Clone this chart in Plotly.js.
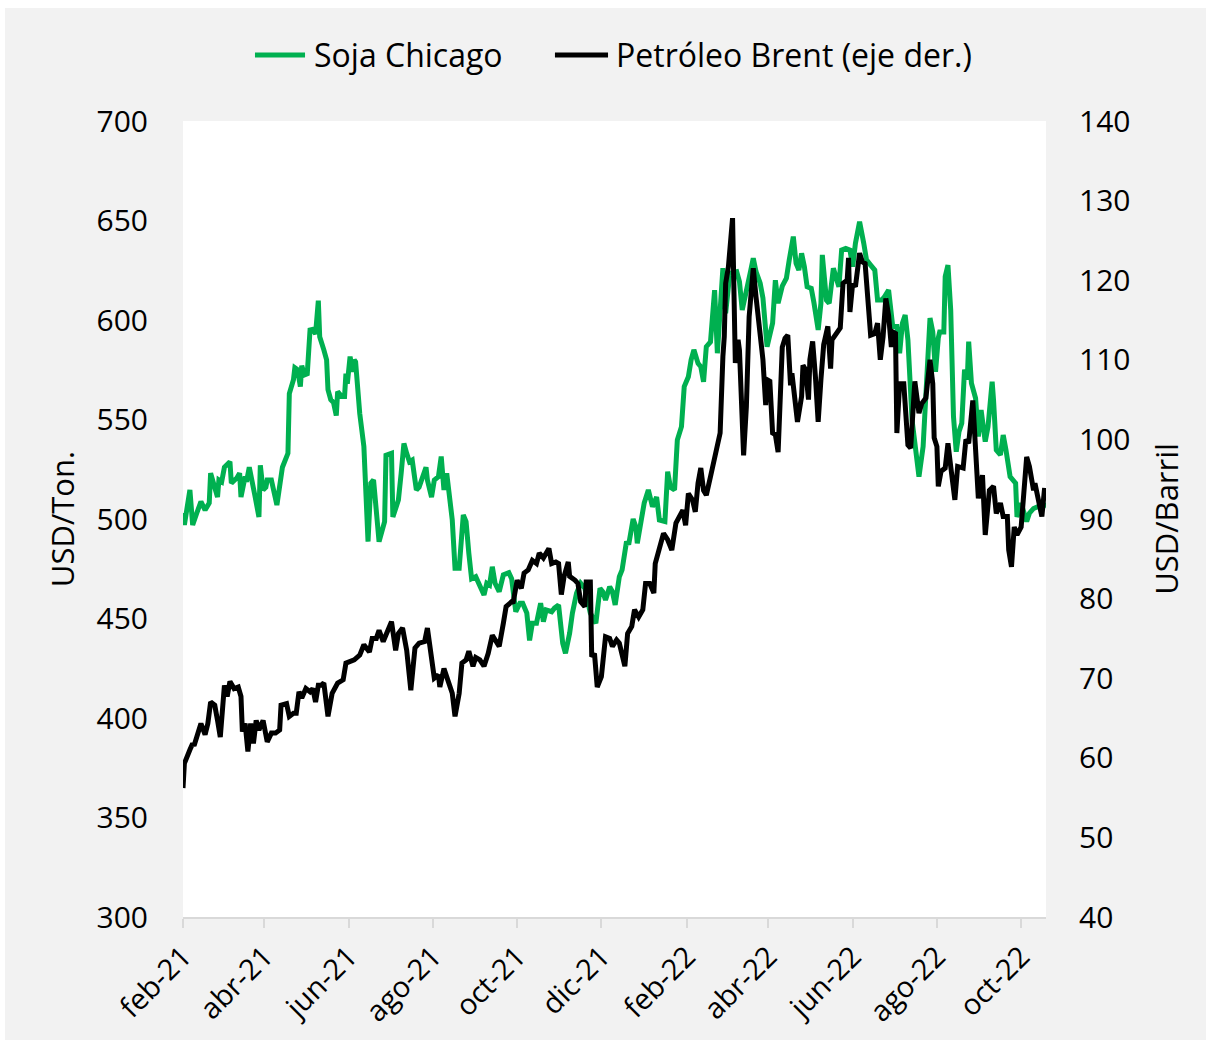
<!DOCTYPE html>
<html>
<head>
<meta charset="utf-8">
<script src="https://cdn.plot.ly/plotly-3.0.1.min.js"></script>
<style>
  html, body { margin: 0; padding: 0; background: #ffffff; }
  #chart { position: absolute; left: 5px; top: 8px; width: 1201px; height: 1032px; }
</style>
</head>
<body>
<div id="chart"></div>
<script>
// Days counted from 1 Feb 2021
const sojaDays = [0,1,5,7,10,13,16,19,20,23,25,26,28,30,34,35,39,41,42,45,46,48,51,52,55,56,58,60,61,64,68,71,72,76,77,80,81,83,85,86,88,90,92,94,96,98,99,102,104,105,107,109,111,112,115,117,118,119,121,123,124,125,128,131,134,136,138,142,146,147,151,152,156,158,160,162,164,166,169,171,174,176,177,180,182,185,187,189,191,193,195,197,200,203,205,207,209,212,214,218,220,222,224,226,229,232,236,238,241,244,246,249,251,253,256,259,261,263,267,269,272,275,277,280,282,285,288,291,295,299,302,304,306,309,311,313,316,318,321,323,326,328,329,334,337,340,343,345,349,351,353,356,358,361,363,366,368,370,373,375,377,379,382,385,387,388,391,393,396,401,403,405,408,411,413,415,418,420,423,425,427,429,431,434,437,439,442,444,446,448,450,452,455,457,460,462,463,466,468,471,473,475,477,480,483,485,487,490,493,495,498,501,503,506,508,511,514,517,519,521,523,525,528,531,533,536,539,541,543,545,547,548,551,552,554,556,558,560,562,564,566,568,569,571,574,576,578,581,583,586,587,589,592,594,596,599,603,604,607,611,613,616,619,622,625];
const sojaUSDTon = [503,497,514.6,497,503,508.7,504.5,508,523,515.6,511,519.6,518.7,526,528.8,518,520.6,523,511,521.3,518.7,526,513,512,501,527,514.6,516,519.6,519.6,507,519.6,526,533,563,570,576,575,566.5,577,572.4,573,595,595.3,593,609.7,591.6,585,580,565,560,558.6,552,564,561.5,561.5,573,568,581.6,574,580,579,553,536.4,488.6,518,519.6,488.6,498.7,532,533,501,509.5,523,538,533,528.8,529.6,514.6,516,523,526,519.6,511,519.6,521.3,531.4,514.6,523,509.5,499.5,475.2,475.2,502,498.7,482.8,470,471,468,461.8,467.7,466.8,476,467.7,463.5,471.9,473,470,453.4,457.7,457.7,452.7,439,447.6,447.6,457.7,448.4,454.3,453.4,455.2,456.8,437.5,432.5,442.6,452.7,462.7,467.7,465.2,452.7,447.6,465.2,463.5,459.3,466,463.5,456.8,471,474.4,487.8,488,500,496,487.8,508,514.6,506.2,511,499.5,498.7,523.8,516,514.6,539.7,546.4,566.5,571.5,580,585,578.2,576.5,569,586.6,589,615,583.3,593.3,626,603.4,623.5,624.3,619.3,605,613.4,624.3,631,624.3,618.5,611,586.6,591.6,598.4,620,608.4,617,621,630,641.9,628.5,625.1,633.5,626.8,616.7,615.9,608.4,595,608.4,632.7,610,608.4,626,620,616.7,635.2,636,635.2,626.8,638.6,649.4,638.6,630.2,627.6,625.1,610,610,611.7,615,596.7,596.7,583.3,598.4,602.5,590,549.7,534.7,521.3,536.4,576.5,601,594,574,591,594,594,621.8,627.6,605,551.4,533.8,543.9,548.1,575,570,589.1,568.2,560.7,541.4,554.8,538.9,546.4,569,559.8,534.7,532.2,542.2,534.7,521.3,518,501,507.9,498.7,502.9,505.3,506.2,505.3,508];

const brentDays = [0,1,5,7,8,12,13,16,18,20,23,25,27,30,32,34,37,40,42,43,45,47,49,51,53,55,58,61,64,67,70,71,75,77,80,82,84,86,89,92,94,96,98,100,102,105,108,112,116,118,122,124,128,131,135,137,140,142,145,148,151,154,156,159,162,165,168,171,175,177,179,182,185,186,189,193,195,197,200,202,205,207,210,212,215,218,221,224,227,229,232,234,238,239,242,245,247,250,253,256,258,261,265,267,270,272,274,276,279,280,284,286,288,291,292,295,296,298,300,303,306,309,311,314,316,320,322,325,327,330,333,335,338,341,342,345,348,351,354,357,360,362,364,366,369,371,373,375,377,379,382,384,387,389,391,392,393,395,398,400,402,403,406,408,410,413,415,418,420,422,423,425,427,429,431,434,436,438,440,441,443,445,448,449,451,453,454,456,458,460,462,464,467,469,470,473,476,478,481,482,483,485,487,490,492,494,496,498,501,503,505,507,509,511,513,514,516,517,519,522,525,527,530,533,535,538,541,543,544,546,547,549,552,554,556,559,561,564,565,567,569,572,574,576,579,581,584,587,589,592,594,597,598,600,602,604,607,609,611,613,616,617,620,622,624];
const brentUSDBarril = [56.2,59.3,61,61.8,61.5,63.5,64.3,62.9,64.3,67,66.6,64.7,62.6,69.1,67.7,69.6,68.7,68.9,67.7,63.3,64.3,60.8,64.3,61.8,64.7,63.5,64.7,62,63.1,63.1,63.5,66.6,66.8,65.2,65.6,65.6,68.3,67.5,68.7,68.3,68.7,67,69.1,69.1,69.4,65.2,68.1,69.4,69.8,71.9,72.1,72.3,72.9,74.2,73.3,75,75,76,74.6,76,77.1,73.5,75.6,76.3,73.5,68.5,73.8,74.4,74.6,76.3,74,70,70.4,68.9,71.2,69.4,68.1,65.2,68.1,71.9,72.3,73.4,71.5,72.6,72.3,71.5,73.1,75.4,74.4,74,76.9,79,79.6,79.4,82.3,81.3,83.2,83.6,84.8,84.4,85.7,85.1,86.3,84.4,84.6,84.4,80.5,82.8,84.6,82.8,82.3,81.9,79.6,79,82.1,82.1,72.7,73.1,68.9,70.2,75.2,75,74,74.8,74.4,71.5,75.6,76.5,78.6,77.7,78.6,81.9,81.9,80.7,84.4,86.1,88.2,87.4,86.1,89.5,90.3,91.1,89.2,93.2,92.4,90.9,94.5,96.4,93.6,93,95.3,97,98.9,100.8,110.4,112.9,119.6,121.7,127.8,109.6,112.5,111.2,98,104.1,115.4,121.5,117.9,113.3,110,104.3,107.5,107.3,100.8,100.6,98.4,111.6,112.7,113.1,106.8,108.3,105.4,102.2,105.4,109.3,108.7,105,110,112.3,107.9,102.2,107.5,111.9,114.2,108.9,112.5,113.3,114,119.6,120,122.8,116,119.6,119.2,123.4,122.3,122.1,118.1,113.1,113.3,114.6,110,112.9,117.7,115.6,111.6,113.5,113.3,100.8,107,107,99.3,98.9,107.3,103.3,104.5,105.2,110,107,100.2,99.1,94.1,96,96.4,99.5,96.6,92.4,96.6,96.4,96.4,100,99.5,104.9,97.8,92.6,95.5,88,93.6,94.1,90.7,92,90.3,90.3,86.1,84,89,88,89,94.5,97.8,96.6,93.6,94.5,92,90.3,93.9];

const tickDates = ['2021-02-01','2021-04-01','2021-06-01','2021-08-01','2021-10-01','2021-12-01','2022-02-01','2022-04-01','2022-06-01','2022-08-01','2022-10-01'];
const tickLabels = ['feb-21','abr-21','jun-21','ago-21','oct-21','dic-21','feb-22','abr-22','jun-22','ago-22','oct-22'];
const leftTicks = [300,350,400,450,500,550,600,650,700];
const rightTicks = [40,50,60,70,80,90,100,110,120,130,140];

const seriesNames = ['Soja Chicago', 'Petróleo Brent (eje der.)'];
const seriesColors = ['#00b050', '#000000'];
const axisTitles = ['USD/Ton.', 'USD/Barril'];

const base = Date.UTC(2021, 1, 1);
const toDate = d => new Date(base + d * 86400000).toISOString().slice(0, 10);

const FONT = '"Open Sans", "Noto Sans", sans-serif';

const traces = [
  {
    x: sojaDays.map(toDate), y: sojaUSDTon, name: seriesNames[0],
    type: 'scatter', mode: 'lines', yaxis: 'y',
    line: { color: seriesColors[0], width: 5 }
  },
  {
    x: brentDays.map(toDate), y: brentUSDBarril, name: seriesNames[1],
    type: 'scatter', mode: 'lines', yaxis: 'y2',
    line: { color: seriesColors[1], width: 5 }
  }
];

// Custom legend (line sample + label) placed in paper coordinates
const legY = 1.083;
const legItems = [
  { x0: 0.0834, x1: 0.1414, tx: 0.1495 },
  { x0: 0.431, x1: 0.4925, tx: 0.4995 }
];
const shapes = legItems.map((it, i) => ({
  type: 'line', xref: 'paper', yref: 'paper',
  x0: it.x0, x1: it.x1, y0: legY, y1: legY,
  line: { color: seriesColors[i], width: 5 }
}));
const annotations = legItems.map((it, i) => ({
  xref: 'paper', yref: 'paper', x: it.tx, y: legY,
  xanchor: 'left', yanchor: 'middle', showarrow: false,
  text: seriesNames[i], font: { family: FONT, size: 32, color: '#000000' }
}));

const layout = {
  width: 1201, height: 1032,
  paper_bgcolor: '#f2f2f2', plot_bgcolor: '#ffffff',
  margin: { l: 178, r: 160, t: 113, b: 123 },
  font: { family: FONT, size: 30, color: '#000000' },
  showlegend: false,
  shapes: shapes,
  annotations: annotations,
  xaxis: {
    type: 'date', range: ['2021-02-01', '2022-10-19'],
    tickmode: 'array', tickvals: tickDates, ticktext: tickLabels,
    tickangle: -45, tickfont: { family: FONT, size: 29 },
    showgrid: false, zeroline: false,
    showline: true, linecolor: '#d9d9d9', linewidth: 2,
    ticks: 'outside', ticklen: 9, tickcolor: '#d9d9d9', tickwidth: 2
  },
  yaxis: {
    range: [300, 700], tickmode: 'array', tickvals: leftTicks,
    tickfont: { family: FONT, size: 30 },
    showgrid: false, zeroline: false, showline: false, ticks: '',
    ticklabelstandoff: 34,
    title: { text: axisTitles[0], font: { family: FONT, size: 31 }, standoff: 12 }
  },
  yaxis2: {
    range: [40, 140], tickmode: 'array', tickvals: rightTicks,
    overlaying: 'y', side: 'right',
    tickfont: { family: FONT, size: 30 },
    showgrid: false, zeroline: false, showline: false, ticks: '',
    ticklabelstandoff: 32,
    title: { text: axisTitles[1], font: { family: FONT, size: 31 }, standoff: 26 }
  }
};

Plotly.newPlot('chart', traces, layout, { displayModeBar: false, staticPlot: true });
</script>
</body>
</html>
